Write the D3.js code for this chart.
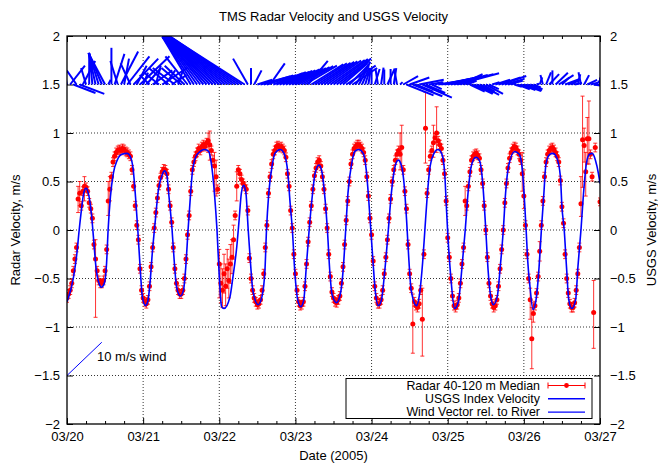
<!DOCTYPE html>
<html>
<head>
<meta charset="utf-8">
<script src="https://cdn.jsdelivr.net/npm/d3@7/dist/d3.min.js"></script>
<style>
  body { margin: 0; background: #fff; }
  svg { font-family: "Liberation Sans", Arial, sans-serif; font-size: 13px; }
</style>
</head>
<body>
<div id="chart_radar"></div>
<script>
// ---- data (time in days after 03/20 00:00) ----
const dayLabels = ["03/20", "03/21", "03/22", "03/23", "03/24", "03/25", "03/26", "03/27"];
const yTicks = [-2, -1.5, -1, -0.5, 0, 0.5, 1, 1.5, 2];

// radar median, one value every 30 minutes (null = no data)
const radarStepHours = 0.5;
const radarV = [
  -0.70,-0.66,-0.62,-0.55,-0.42,-0.30,-0.18,0.32,0.38,0.25,0.40,0.45,0.44,0.40,0.28,0.22,0.12,-0.15,-0.30,-0.42,-0.52,-0.55,-0.55,-0.52,-0.42,-0.20,0.30,0.42,0.55,0.70,0.76,0.80,0.82,0.83,0.82,0.84,0.83,0.81,0.80,0.78,0.76,0.62,0.45,0.25,0.05,-0.10,-0.40,-0.62,
  -0.70,-0.74,-0.76,-0.72,-0.58,-0.38,-0.18,0.02,0.18,0.33,0.46,0.54,0.60,0.63,0.62,0.58,0.42,0.25,0.08,-0.18,-0.40,-0.55,-0.62,-0.66,-0.66,-0.62,-0.50,-0.30,-0.05,0.15,0.40,0.62,0.70,0.76,0.80,0.84,0.82,0.86,0.88,0.86,0.90,0.92,0.88,0.82,0.72,0.66,0.55,0.42,
  -0.35,-0.55,-0.62,-0.45,-0.58,-0.40,-0.52,-0.35,-0.28,-0.10,0.15,0.45,0.62,0.58,0.52,0.48,0.45,0.42,0.20,-0.29,-0.50,-0.62,-0.70,-0.74,-0.77,-0.76,-0.72,-0.62,-0.45,-0.18,0.05,0.38,0.55,0.68,0.78,0.82,0.86,0.87,0.85,0.86,0.84,0.82,0.75,0.58,0.45,0.20,0.02,-0.25,
  -0.45,-0.62,-0.74,-0.78,-0.77,-0.74,-0.58,-0.35,-0.12,0.08,0.25,0.42,0.56,0.64,0.70,0.72,0.66,0.55,0.42,0.22,0.02,-0.25,-0.48,-0.64,-0.70,-0.74,-0.75,-0.72,-0.68,-0.55,-0.38,-0.15,0.10,0.30,0.50,0.68,0.78,0.84,0.86,0.88,0.88,0.86,0.84,0.80,0.72,0.55,0.35,0.12,
  -0.05,-0.32,-0.58,-0.70,-0.76,-0.76,-0.72,-0.62,-0.45,-0.28,-0.10,0.12,0.32,0.50,0.62,0.72,0.78,0.82,0.78,0.85,0.62,0.40,0.22,-0.15,-0.45,-0.60,-0.97,-0.74,-0.78,-0.80,-0.76,-0.62,-0.92,-0.25,1.05,0.38,0.62,0.76,0.82,0.90,0.95,1.00,0.92,0.88,0.84,0.72,0.58,0.30,
  -0.08,-0.28,-0.50,-0.68,-0.78,-0.80,-0.77,-0.70,-0.55,-0.35,-0.18,0.30,0.25,0.45,0.60,0.72,0.76,0.78,0.79,0.77,0.74,0.62,0.48,0.25,0.00,-0.28,-0.55,-0.68,-0.76,-0.80,-0.78,-0.72,-0.58,-0.40,-0.20,0.00,0.28,0.48,0.64,0.74,0.80,0.84,0.86,0.85,0.82,0.78,0.72,0.58,
  0.35,0.05,-0.25,-0.50,-0.72,-1.12,-0.86,-0.78,-0.65,-0.48,-0.22,0.05,0.30,0.55,0.70,0.78,0.82,0.84,0.85,0.83,0.80,0.76,0.70,0.51,0.24,0.07,-0.25,-0.50,-0.65,-0.76,-0.80,-0.80,-0.75,-0.62,-0.45,-0.18,0.27,0.93,0.87,0.60,0.94,0.94,0.78,0.55,-0.85,0.85,null,null,0.29
];
const radarErr = 0.045;          // usual half-width of the error bar
// points with a wide error bar: [sample index, low, high]
const radarWideBars = [
  [7,0.18,0.45],[8,0.25,0.50],[11,0.30,0.55],[18,-0.90,-0.10],[26,0.15,0.50],[27,0.30,0.55],
  [89,0.80,1.00],[90,0.72,1.02],[93,0.40,0.80],[94,0.35,0.72],
  [96,-0.70,-0.20],[97,-0.75,-0.35],[98,-0.80,-0.40],[99,-0.65,-0.25],[100,-0.78,-0.35],
  [101,-0.60,-0.20],[102,-0.70,-0.30],[103,-0.55,-0.15],[104,-0.45,-0.10],[105,-0.30,0.05],[107,0.30,0.60],
  [210,0.62,1.00],[211,0.65,1.08],
  [218,-1.27,-0.66],[224,-1.30,-0.60],[226,0.69,1.42],[231,0.75,1.08],[233,0.80,1.27],[251,0.15,0.45],
  [287,0.40,0.80],[288,0.22,0.62],[292,-0.92,-0.60],[293,-1.43,-0.80],[294,-0.95,-0.75],[298,-0.32,-0.12],
  [324,0.14,0.55],[325,0.44,1.38],[326,0.70,1.05],[327,0.35,0.80],[328,0.68,1.16],[329,0.68,1.33],
  [332,-1.22,-0.52],[336,0.25,0.33]
];

// USGS index velocity [day, m/s]
const usgsPoints = [
  [0,-0.74],[0.087,-0.48],[0.13,-0.24],[0.16,0],[0.19,0.21],[0.22,0.38],[0.25,0.43],[0.28,0.38],[0.32,0.17],[0.35,-0.10],
  [0.38,-0.38],[0.42,-0.55],[0.45,-0.59],[0.49,-0.55],[0.52,-0.34],[0.54,0],[0.57,0.34],[0.61,0.59],[0.66,0.72],[0.72,0.78],
  [0.79,0.79],[0.83,0.76],[0.87,0.62],[0.90,0.34],[0.93,0],[0.96,-0.38],[0.99,-0.69],[1.03,-0.78],[1.06,-0.74],[1.09,-0.55],
  [1.12,-0.24],[1.16,0.10],[1.20,0.41],[1.25,0.57],[1.28,0.61],[1.31,0.57],[1.34,0.34],[1.38,0],[1.41,-0.34],[1.44,-0.59],
  [1.49,-0.68],[1.53,-0.62],[1.56,-0.38],[1.59,0],[1.62,0.34],[1.65,0.62],[1.71,0.78],[1.81,0.83],[1.86,0.81],[1.90,0.66],
  [1.94,0.34],[1.97,0],[2.0,-0.48],[2.03,-0.79],[2.06,-0.81],[2.14,-0.69],[2.18,-0.48],[2.23,-0.17],[2.26,0.10],[2.29,0.38],
  [2.32,0.46],[2.35,0.38],[2.38,0],[2.41,-0.34],[2.44,-0.62],[2.51,-0.77],[2.56,-0.69],[2.60,-0.41],[2.62,0],[2.65,0.38],
  [2.70,0.69],[2.73,0.79],[2.80,0.83],[2.85,0.79],[2.90,0.59],[2.93,0.28],[2.96,0],[2.99,-0.41],[3.03,-0.72],[3.07,-0.79],
  [3.11,-0.72],[3.14,-0.41],[3.18,0],[3.22,0.34],[3.26,0.59],[3.31,0.67],[3.35,0.59],[3.39,0.31],[3.42,0],[3.45,-0.41],
  [3.48,-0.66],[3.54,-0.75],[3.59,-0.66],[3.63,-0.38],[3.66,0],[3.69,0.38],[3.74,0.69],[3.78,0.81],[3.83,0.83],[3.89,0.79],
  [3.93,0.62],[3.96,0.34],[3.99,0],[4.02,-0.34],[4.05,-0.64],[4.09,-0.78],[4.13,-0.72],[4.17,-0.45],[4.22,0],[4.26,0.38],
  [4.31,0.66],[4.35,0.72],[4.39,0.67],[4.43,0.45],[4.46,0.10],[4.49,-0.31],[4.52,-0.62],[4.59,-0.78],[4.63,-0.66],[4.67,-0.34],
  [4.70,0],[4.73,0.34],[4.77,0.66],[4.82,0.79],[4.87,0.83],[4.92,0.79],[4.96,0.59],[4.98,0.28],[5.0,-0.03],[5.04,-0.48],
  [5.09,-0.81],[5.14,-0.74],[5.18,-0.45],[5.23,0],[5.27,0.41],[5.31,0.66],[5.37,0.75],[5.42,0.71],[5.46,0.48],[5.50,0],
  [5.53,-0.41],[5.56,-0.66],[5.60,-0.77],[5.65,-0.69],[5.69,-0.38],[5.73,0],[5.76,0.38],[5.80,0.66],[5.88,0.81],[5.94,0.78],
  [5.98,0.62],[6.01,0.28],[6.03,0],[6.05,-0.31],[6.08,-0.58],[6.12,-0.82],[6.16,-0.72],[6.20,-0.38],[6.23,0],[6.26,0.34],
  [6.29,0.68],[6.34,0.78],[6.38,0.79],[6.43,0.75],[6.48,0.55],[6.50,0.24],[6.53,0],[6.56,-0.38],[6.59,-0.72],[6.63,-0.81],
  [6.68,-0.72],[6.71,-0.38],[6.75,0],[6.78,0.34],[6.82,0.68],[6.86,0.78],[6.90,0.79],[6.94,0.72],[6.98,0.58],[7.0,0.48]
];

// wind relative to river, hourly, m/s (u along time axis, v up)
const windStepHours = 1;
const windU = [
  -1,3,4.5,-2,5,2.5,-1,0,-0.6,-1.4,-2.0,-2.7,-3.4,0.5,
  0,2,-1.5,3.5,1,4.5,-2,5,2,6,1,
  3,-2,4,1,-3,5,2,-4,3,-4.5,1,-4,
  -4,-4.5,-5.8,-6.4,-6.9,-7.5,-8.0,-8.6,-9.1,-9.7,-10.2,-10.8,-11.3,-11.8,-12.4,-12.9,-13.4,-14.0,-14.5,-15.3,
  -3,0,1.5,3,
  6,6,6,3,6,6,6,6,6,6.2,6.2,6.2,6.3,6.4,6.5,4,6.5,6.6,6.7,6.8,6.8,6.9,7,7,7,
  6,5,6,4,5,3,2,1.5,1,
  0.5,0,1,-0.5,0.5,0,1.5,0,0.5,-0.5,0.5,
  3,5.5,4,6,3.5,5,6,4,3,
  2,1.5,5,6,6.5,7,7.5,8,8.5,4.5,3.5,2,
  3,4,3.5,4,2.5,3.5,2,
  1.5,3,4.5,5,4,3,1,
  1.5,2.5,3,3.5,3,2.5,1.5,0.5,
  0.5,-0.5,1,2,0,2.5,3,1.5,3,2,
  1,1.5,0.5,-0.5,1,2,1.5,2,0.5,0
];
const windV = [
  5,4,-1.8,3,-2,5,3.5,6.5,6.7,6.7,6.7,6.7,6.7,1,
  7.8,6.5,5,7,5.5,6,4.5,5.5,4,6,2.5,
  3.5,2,3,4,2.5,3.5,3,3.5,2,3.5,3,3.5,
  4,6,10.2,10.2,10.2,10.2,10.2,10.2,10.2,10.2,10.2,10.2,10.2,10.2,10.2,10.2,10.2,10.2,10.2,10.2,
  5.5,3.5,3,1,
  1.7,1.9,2.0,4.5,2.4,2.6,2.7,2.9,3.0,3.2,3.4,3.5,3.7,3.9,4.0,5,4.3,4.5,4.6,4.8,4.9,5.1,5.2,5.4,5.5,
  5,4.5,4,4.2,3.5,4.8,4.0,3.6,3.4,
  3.5,3.4,3.3,3.4,3.6,3.2,3.4,3.3,3.5,3.0,0.5,
  1.8,-2.3,1.5,-2.5,-1.5,1,-2.8,-1.8,0.5,
  -1,0.5,0.8,1.2,1.5,1.8,2.0,2.2,2.4,2.2,1.5,0.8,
  -1.5,-2.0,-1.8,-2.2,-1.5,-2.0,-1,
  0.5,1,1.5,1.8,1.2,0.8,0.3,
  -0.5,-1,-1.2,-1.4,-1.3,-1,-0.6,0.2,
  1.5,2,2.6,2.2,3,2.5,2,1.5,1.2,0.8,
  0.5,0.3,2.2,2.6,2,1,0.4,-0.3,0.8,1.5
];
const windBase = 1.5;            // vectors start on this level
const windScaleX = 0.0646;       // days per m/s
const windScaleY = 0.0485;       // plot units per m/s
const refWind = { t: 0, y: -1.5, u: 7.07, v: 7.07, label: "10 m/s wind" };

// ---- layout ----
const width = 658, height = 464,
    margin = ({ top: 36, right: 58, bottom: 40, left: 67 });

const svg = d3.select("#chart_radar")
  .append("svg")
  .attr("width", width)
  .attr("height", height);

let x = d3.scaleLinear()
  .domain([0, 7])
  .range([margin.left, width - margin.right]);

let y = d3.scaleLinear()
  .domain([-2, 2])
  .range([height - margin.bottom, margin.top]);

svg.append("clipPath").attr("id", "plot-clip")
  .append("rect")
  .attr("x", margin.left).attr("y", margin.top)
  .attr("width", width - margin.left - margin.right)
  .attr("height", height - margin.top - margin.bottom);

// grid (dotted)
const dayTicks = dayLabels.map((d, i) => i);
svg.append("g").selectAll("line")
  .data(dayTicks.slice(1, -1))
  .join("line")
  .attr("x1", d => x(d)).attr("x2", d => x(d))
  .attr("y1", y(-2)).attr("y2", y(2))
  .attr("stroke", "#000").attr("stroke-width", 0.8)
  .attr("stroke-dasharray", "1,2");
svg.append("g").selectAll("line")
  .data(yTicks.slice(1, -1))
  .join("line")
  .attr("x1", x(0)).attr("x2", x(7))
  .attr("y1", d => y(d)).attr("y2", d => y(d))
  .attr("stroke", "#000").attr("stroke-width", 0.8)
  .attr("stroke-dasharray", "1,2");

// axes, ticks pointing inward
const minorTicks = d3.range(0, 7.001, 0.25).filter(d => d % 1 !== 0);

svg.append("g")
  .attr("transform", `translate(0,${y(-2)})`)
  .call(d3.axisBottom(x).tickValues(dayTicks).tickSize(-6).tickPadding(8)
    .tickFormat((d, i) => dayLabels[i]))
  .call(g => g.select(".domain").remove())
  .call(g => g.selectAll("text").attr("font-size", 13).attr("font-family", null));
svg.append("g")
  .attr("transform", `translate(0,${y(-2)})`)
  .call(d3.axisBottom(x).tickValues(minorTicks).tickSize(-3).tickFormat(""))
  .call(g => g.select(".domain").remove());
svg.append("g")
  .attr("transform", `translate(0,${y(2)})`)
  .call(d3.axisTop(x).tickValues(dayTicks).tickSize(-6).tickFormat(""))
  .call(g => g.select(".domain").remove());
svg.append("g")
  .attr("transform", `translate(0,${y(2)})`)
  .call(d3.axisTop(x).tickValues(minorTicks).tickSize(-3).tickFormat(""))
  .call(g => g.select(".domain").remove());

svg.append("g")
  .attr("transform", `translate(${x(0)},0)`)
  .call(d3.axisLeft(y).tickValues(yTicks).tickSize(-6).tickPadding(7).tickFormat(d3.format("")))
  .call(g => g.select(".domain").remove())
  .call(g => g.selectAll("text").attr("font-size", 13).attr("font-family", null));
svg.append("g")
  .attr("transform", `translate(${x(7)},0)`)
  .call(d3.axisRight(y).tickValues(yTicks).tickSize(-6).tickPadding(10).tickFormat(d3.format("")))
  .call(g => g.select(".domain").remove())
  .call(g => g.selectAll("text").attr("font-size", 13).attr("font-family", null));

// ---- radar points with error bars ----
let wide = new Map(radarWideBars.map(d => [d[0], [d[1], d[2]]]));
let radar = [];
radarV.forEach((v, i) => {
  if (v === null) return;
  let b = wide.get(i) || [v - radarErr, v + radarErr];
  radar.push({ t: i * radarStepHours / 24, v: v, lo: b[0], hi: b[1] });
});

const plot = svg.append("g").attr("clip-path", "url(#plot-clip)");

const bars = plot.append("g")
  .attr("stroke", "#ff0000")
  .attr("stroke-width", 1)
  .attr("stroke-opacity", 0.8);
bars.selectAll(".eb")
  .data(radar)
  .join("path")
  .attr("class", "eb")
  .attr("fill", "none")
  .attr("d", d => {
    let xx = x(d.t), y0 = y(d.lo), y1 = y(d.hi);
    return `M${xx},${y0}V${y1}M${xx - 2},${y0}H${xx + 2}M${xx - 2},${y1}H${xx + 2}`;
  });
plot.append("g").selectAll("circle")
  .data(radar)
  .join("circle")
  .attr("cx", d => x(d.t))
  .attr("cy", d => y(d.v))
  .attr("r", 2.5)
  .attr("fill", "#ff0000");

// ---- USGS velocity ----
let line = d3.line()
  .x(d => x(d[0]))
  .y(d => y(d[1]))
  .curve(d3.curveMonotoneX);

plot.append("path")
  .datum(usgsPoints)
  .attr("d", line)
  .attr("fill", "none")
  .attr("stroke", "#0000ff")
  .attr("stroke-width", 1.6);

// ---- wind vectors ----
plot.append("g").selectAll("line")
  .data(windU.map((u, i) => ({ t: i * windStepHours / 24, u: u, v: windV[i] })))
  .join("line")
  .attr("x1", d => x(d.t))
  .attr("y1", y(windBase))
  .attr("x2", d => x(d.t + d.u * windScaleX))
  .attr("y2", d => y(windBase + d.v * windScaleY))
  .attr("stroke", "#0000ff")
  .attr("stroke-width", 2);

// reference vector
plot.append("line")
  .attr("x1", x(refWind.t)).attr("y1", y(refWind.y))
  .attr("x2", x(refWind.t + refWind.u * windScaleX))
  .attr("y2", y(refWind.y + refWind.v * windScaleY))
  .attr("stroke", "#0000ff").attr("stroke-width", 1);
svg.append("text")
  .attr("x", x(refWind.t) + 30)
  .attr("y", y(refWind.y + 0.2))
  .attr("dy", "0.35em")
  .text(refWind.label);

// border
svg.append("rect")
  .attr("x", x(0)).attr("y", y(2))
  .attr("width", x(7) - x(0)).attr("height", y(-2) - y(2))
  .attr("fill", "none").attr("stroke", "#000").attr("stroke-width", 1.3);

// ---- legend ----
const legendItems = ["Radar 40-120 m Median", "USGS Index Velocity", "Wind Vector rel. to River"];
const legend = svg.append("g").attr("font-size", 12.4);
legend.append("rect")
  .attr("x", 346).attr("y", 378.5).attr("width", 246).attr("height", 40)
  .attr("fill", "#fff").attr("stroke", "#000").attr("stroke-width", 1);
legendItems.forEach((name, i) => {
  let ly = 385.5 + i * 13.3;
  legend.append("text")
    .attr("x", 540).attr("y", ly).attr("dy", "0.35em")
    .attr("text-anchor", "end")
    .text(name);
  if (i === 0) {
    legend.append("path")
      .attr("d", `M548,${ly}H585M548,${ly - 3}V${ly + 3}M585,${ly - 3}V${ly + 3}`)
      .attr("stroke", "#ff0000").attr("stroke-width", 1).attr("fill", "none");
    legend.append("circle").attr("cx", 566.5).attr("cy", ly).attr("r", 2.4).attr("fill", "#ff0000");
  } else {
    legend.append("line")
      .attr("x1", 548).attr("x2", 585).attr("y1", ly).attr("y2", ly)
      .attr("stroke", "#0000ff").attr("stroke-width", i === 1 ? 1.6 : 1.2);
  }
});

// ---- titles ----
svg.append("text")
  .attr("x", (x(0) + x(7)) / 2).attr("y", 21)
  .attr("text-anchor", "middle")
  .text("TMS Radar Velocity and USGS Velocity");
svg.append("text")
  .attr("x", (x(0) + x(7)) / 2).attr("y", 460)
  .attr("text-anchor", "middle")
  .text("Date (2005)");
svg.append("text")
  .attr("transform", `translate(15,${y(0)}) rotate(-90)`)
  .attr("text-anchor", "middle")
  .attr("dy", "0.35em")
  .text("Radar Velocity, m/s");
svg.append("text")
  .attr("transform", `translate(651,${y(0)}) rotate(-90)`)
  .attr("text-anchor", "middle")
  .attr("dy", "0.35em")
  .text("USGS Velocity, m/s");
</script>
</body>
</html>
